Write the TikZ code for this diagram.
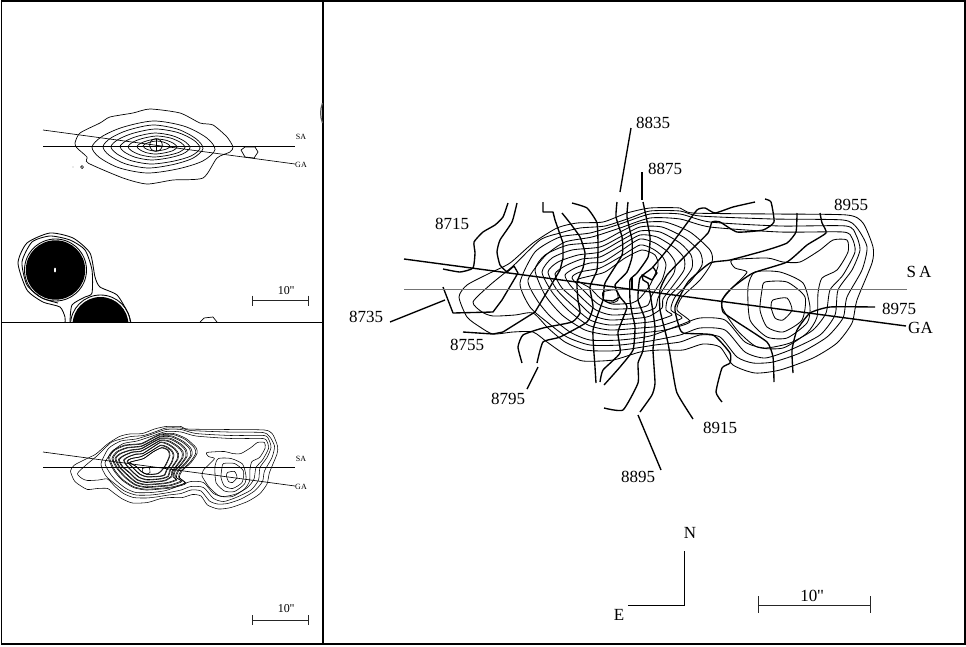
\documentclass[tikz,border=0pt]{standalone}
\usepackage{fontspec}
\setmainfont{Liberation Serif}
\newfontfamily\qf{Liberation Serif}
\tikzset{
 frameline/.style={line width=1.9pt,black},
 cont/.style={line width=.85pt,black,line join=round},
 vel/.style={line width=1.35pt,black,line join=round},
 salin/.style={line width=.9pt,black!55},
 galin/.style={line width=1.4pt,black},
 thinax/.style={line width=.65pt,black},
 barline/.style={line width=.75pt,black!85},
 lab/.style={inner sep=0pt,font=\qf\fontsize{17}{17}\selectfont},
 tiny/.style={inner sep=0pt,font=\qf\fontsize{8}{8}\selectfont},
 mid/.style={inner sep=0pt,font=\qf\fontsize{12}{12}\selectfont}
}
\newcommand{\galc}[4]{%
 \draw[cont] plot[smooth cycle,tension=.5] coordinates {
  ({#1},{#2+.5*(#4-#2)}) ({#1+.08*(#3-#1)},{#2+.3*(#4-#2)}) ({#1+.25*(#3-#1)},{#2+.12*(#4-#2)})
  ({#1+.5*(#3-#1)},{#2}) ({#1+.75*(#3-#1)},{#2+.1*(#4-#2)}) ({#1+.93*(#3-#1)},{#2+.32*(#4-#2)})
  ({#3},{#2+.55*(#4-#2)}) ({#1+.9*(#3-#1)},{#2+.77*(#4-#2)}) ({#1+.7*(#3-#1)},{#2+.92*(#4-#2)})
  ({#1+.45*(#3-#1)},{#4}) ({#1+.22*(#3-#1)},{#2+.9*(#4-#2)}) ({#1+.06*(#3-#1)},{#2+.7*(#4-#2)})
 };}
\newcommand{\cplot}[1]{\draw[cont] plot[smooth cycle,tension=.4] coordinates {#1};}
\newcommand{\vplot}[1]{\draw[vel] plot[smooth,tension=.3] coordinates {#1};}
\newcommand{\bodyconts}{%
 \cplot{(535,270)(545,255)(568,245)(600,242)(620,232)(640,223)(665,222)(690,232)(710,250)(712,262)(700,280)(682,297)(677,310)(690,322)(665,330)(640,333)(610,335)(585,330)(562,315)(545,295)}
 \cplot{(542,272)(552,258)(572,250)(600,247)(620,237)(640,227)(662,227)(685,238)(700,252)(702,265)(690,282)(675,297)(671,310)(682,318)(660,326)(640,328)(610,330)(588,325)(568,310)(552,292)}
 \cplot{(548,272)(558,262)(578,255)(600,252)(620,241)(640,231)(660,232)(680,243)(691,255)(692,268)(680,285)(668,298)(666,310)(672,315)(655,321)(640,323)(610,325)(590,320)(573,306)(557,290)}
 \cplot{(555,274)(565,266)(582,259)(600,257)(620,246)(640,235)(657,237)(675,248)(684,258)(684,270)(672,287)(663,299)(662,308)(650,316)(640,318)(610,320)(592,315)(578,302)(562,288)}
 \cplot{(565,275)(575,268)(590,263)(603,262)(622,250)(640,239)(655,243)(668,252)(675,262)(674,273)(664,288)(658,298)(655,308)(640,313)(612,315)(596,310)(582,298)(570,285)}
 \cplot{(572,278)(580,272)(600,268)(620,257)(640,245)(653,249)(662,256)(666,265)(662,280)(652,295)(648,305)(638,308)(612,309)(598,304)(586,293)}
 \cplot{(577,280)(590,276)(605,272)(625,258)(642,250)(655,255)(658,266)(650,285)(640,298)(632,303)(612,304)(600,298)(590,288)}
}
\newcommand{\mainconts}{%
 \cplot{(459,297)(467,285)(490,273)(510,263)(533,243)(557,228)(577,223)(603,222)(627,213)(650,208)(680,208)(693,213)(773,214)(847,215)(863,223)(873,247)(872,263)(857,300)(852,323)(837,343)(813,358)(780,370)(755,373)(733,365)(720,347)(703,344)(683,350)(660,350)(640,352)(613,360)(583,361)(563,353)(547,342)(533,332)(513,332)(493,334)(480,327)(467,317)}
 \cplot{(473,302)(490,285)(513,266)(540,240)(560,233)(580,228)(605,226)(630,218)(650,211)(680,211)(700,216)(773,219)(843,220)(857,228)(867,247)(862,270)(847,297)(843,318)(827,337)(800,353)(773,362)(753,363)(737,357)(720,337)(700,335)(680,342)(655,345)(630,349)(610,351)(585,350)(565,342)(548,328)(533,313)(515,315)(493,316)(482,312)}
 \cplot{(846,226)(856,235)(860,250)(852,270)(838,290)(835,315)(820,335)(790,350)(765,358)(745,352)(725,330)(700,328)(680,335)(650,341)(620,345)(590,345)(567,337)(547,322)(530,307)(520,283)(535,252)(560,237)(590,233)(620,224)(650,214)(680,214)(710,222)(780,226)}
 \cplot{(843,232)(852,238)(855,252)(843,275)(830,290)(826,313)(813,330)(790,343)(765,348)(745,342)(725,320)(700,318)(680,325)(650,336)(620,340)(590,340)(570,332)(550,316)(537,300)(528,280)(545,256)(565,242)(592,237)(620,228)(650,218)(680,219)(710,227)(780,232)}
 \cplot{(847,240)(848,252)(837,270)(822,278)(818,293)(817,317)(807,333)(783,348)(757,347)(737,330)(722,307)(725,295)(735,285)(747,272)(735,268)(732,260)(767,258)(783,262)(800,262)(820,250)(833,240)}
 \cplot{(755,272)(780,272)(803,283)(810,307)(807,323)(787,338)(767,337)(750,320)(748,287)}
 \cplot{(765,282)(787,282)(805,297)(802,320)(783,332)(767,327)(760,310)(762,290)}
 \cplot{(773,300)(787,298)(792,310)(783,320)(775,318)(771,307)}
 \bodyconts
 \cplot{(603,292)(616,290)(618,300)(611,303)(604,300)}
}
\begin{document}
\begin{tikzpicture}[x=1pt,y=-1pt]
\useasboundingbox (0,0) rectangle (966,646);
% ---------- frames
\draw[frameline] (1.5,1) rectangle (965,644);
\draw[frameline] (323,1) -- (323,644);
\draw[frameline] (1.5,322.5) -- (323,322.5);
% ---------- top left panel
\begin{scope}[cont/.style={line width=.7pt,black,line join=round}]
\cplot{(75,143)(80,133)(100,123)(110,117)(133,113)(150,109)(180,113)(200,123)(213,125)(227,137)(233,147)(230,152)(217,158)(203,178)(173,180)(147,184)(123,178)(88,163)(87,157)(77,148)}
\galc{92}{121}{215}{173}
\galc{103}{125}{203}{168}
\galc{111}{129}{200}{164}
\galc{120}{133}{190}{160}
\galc{128}{136}{185}{157}
\galc{137}{139}{177}{154}
\galc{143}{141}{170}{151}
\draw[cont] (156,145) circle (6.3);
\draw[cont] (156,139) -- (156,151);
\draw[cont] (241,150)--(245,147)--(255,147)--(258,152)--(254,158)--(245,157)--cycle;
\draw[cont] (82,167) circle (1.5);
\fill (73,167) circle (.4);
\draw[cont] (200,322)--(204,318)--(213,317)--(217,322);
\end{scope}
\draw[line width=1.2pt,black!65] (322.5,103) .. controls (320,110) and (320,116) .. (322.5,123);
\draw[thinax] (43,146) -- (295,146);
\draw[thinax] (43,130) -- (295,164);
\node[tiny] (tsa) at (301,137) {SA};
\node[tiny] (tga) at (301,165) {GA};
\draw[barline] (252,300.5) -- (308,300.5);
\draw[barline] (252,295.5) -- (252,306);
\draw[barline] (308,295.5) -- (308,306);
\node[mid] (tbar) at (286,291) {10''};
% stars
\begin{scope}
\clip (3,200) rectangle (322,322);
\fill (55.5,270) circle (29.7);
\fill (100.5,325) circle (28);
\fill[white] (55,270) ellipse (1 and 2.5);
\draw[cont] (55.5,270) circle (31);
\draw[cont] (100.5,325) circle (30);
\draw[cont] plot[smooth,tension=.4] coordinates {(70,322)(72,305)(85,297)(92,293)(92,270)(85,250)(70,240)(50,236)(32,242)(22,262)(27,285)(42,298)(58,303)};
\draw[cont] plot[smooth,tension=.4] coordinates {(131,323)(128,313)(117,295)(100,287)(95,277)(90,253)(73,238)(50,233)(27,243)(18,263)(27,290)(43,302)(60,307)(65,317)(65,323)};
\end{scope}
% ---------- bottom left panel
\begin{scope}[shift={(-159,322.5)},scale=.5,cont/.style={line width=.55pt,black,line join=round}]
 \mainconts
 \begin{scope}[scale around={.97:(612,282)}]\bodyconts\end{scope}
\end{scope}
\draw[thinax] (43,467) -- (295,467);
\draw[thinax] (43,452) -- (295,486);
\node[tiny] (bsa) at (301,459) {SA};
\node[tiny] (bga) at (301,487) {GA};
\draw[barline] (252,620) -- (308,620);
\draw[barline] (252,615) -- (252,625);
\draw[barline] (308,615) -- (308,625);
\node[mid] (bbar) at (286,609) {10''};
% ---------- main panel
\mainconts
\vplot{(508,203)(503,217)(495,225)(483,232)(474,242)(475,253)(473,268)(460,272)(443,269)}
\vplot{(517,203)(512,222)(500,240)(497,252)(500,265)(507,272)}
\draw[vel] (507,272)--(514,266)--(518,273)--(502,300)--(493,312)--(453,313)--(448,300)--(443,287);
\draw[vel] (543,202)--(543,212)--(553,212)--(555,220)--(563,243)--(563,258)--(560,270)--(550,287)--(535,312)--(503,332)--(493,334)--(463,332);
\vplot{(562,213)(570,223)(580,237)(585,253)(583,268)(577,282)(578,300)(580,313)(572,322)(543,328)(523,335)(518,347)(522,363)}
\vplot{(572,203)(587,208)(597,223)(598,248)(597,270)(590,287)(593,307)(587,322)(560,337)(543,342)(537,363)}
\vplot{(617,202)(616,217)(622,237)(622,255)(605,283)(603,300)(593,330)(595,367)(596,383)}
\draw[vel] (603,300)--(613,301)--(620,297);
\vplot{(628,202)(627,217)(632,240)(632,257)(627,272)(615,285)(620,297)(627,307)(618,332)(620,353)(603,370)(600,382)}
\vplot{(643,202)(650,237)(648,257)(637,273)(630,280)(630,300)(632,313)(635,327)(633,350)(620,367)(604,385)}
\vplot{(755,202)(733,207)(715,213)(705,208)(697,210)(682,230)(667,250)(652,268)(640,278)(638,300)(645,320)(643,350)(638,363)(638,383)(623,410)(604,408)}
\vplot{(640,412)(652,395)(655,383)(653,350)(655,327)(650,293)}
\draw[vel] (650,293)--(648,283)--(643,280)--(642,275)--(652,280)--(657,273)--(653,267);
\draw[vel] (632,277)--(632,290);
\vplot{(693,419)(677,393)(672,367)(668,343)(660,310)(660,290)(667,275)(688,253)(708,233)(712,222)(720,222)(737,232)(763,230)(774,222)(771,202)(765,199)}
\vplot{(797,213)(796,232)(787,243)(767,250)(730,260)(710,263)(688,282)(675,307)(678,323)(683,333)(713,335)(730,353)(730,363)(722,368)(716,392)(722,402)}
\vplot{(820,213)(822,223)(826,233)(807,245)(787,262)(753,273)(733,287)(722,300)(723,312)(737,322)(767,342)(773,357)(774,382)}
\vplot{(875,307)(830,307)(810,313)(797,330)(792,350)(793,373)}
% leaders
\draw[vel] (631,128) -- (620,192);
\draw[vel] (642,172) -- (642,200);
\draw[vel] (390,322) -- (445,300);
\draw[vel] (538,367) -- (527,389);
\draw[vel] (638,415) -- (661,470);
\draw[salin] (404,289) -- (907,289);
\draw[galin] (404,259) -- (906,326);
\node[lab] (n8835) at (653,123) {8835};
\node[lab] (n8875) at (665,169) {8875};
\node[lab] (n8715) at (452,224) {8715};
\node[lab] (n8955) at (851,205) {8955};
\node[lab] (nsa) at (919,272) {S\,A};
\node[lab] (n8975) at (899,309) {8975};
\node[lab] (nga) at (920.5,328) {GA};
\node[lab] (n8735) at (366,317) {8735};
\node[lab] (n8755) at (467,345) {8755};
\node[lab] (n8795) at (508,399) {8795};
\node[lab] (n8915) at (720,428) {8915};
\node[lab] (n8895) at (638,477) {8895};
\node[lab] (nN) at (690,533) {N};
\node[lab] (nE) at (619,615) {E};
\draw[thinax] (628,605) -- (684,605) -- (684,551);
\draw[barline] (758,605) -- (870,605);
\draw[barline] (758,596) -- (758,613);
\draw[barline] (870,596) -- (870,613);
\node[lab] (mbar) at (812,596) {10''};
\end{tikzpicture}
\end{document}
